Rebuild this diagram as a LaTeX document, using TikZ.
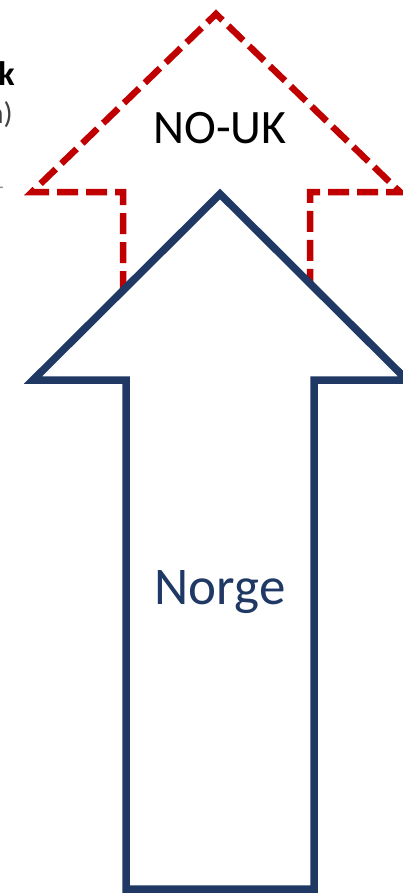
\documentclass[tikz,border=0pt]{standalone}
\usepackage{fontspec}
\setmainfont{Carlito}
\definecolor{navy}{HTML}{1F3864}
\definecolor{dred}{HTML}{C00000}
\definecolor{fragray}{HTML}{404040}
\begin{document}
\begin{tikzpicture}[x=1pt,y=-1pt,
  redarrow/.style={draw=dred,line width=6.5pt,dash pattern=on 21pt off 8pt,fill=white,miter limit=10},
  bluearrow/.style={draw=navy,line width=7.5pt,fill=white,miter limit=10},
  lbl/.style={inner sep=0pt,font=\fontsize{48}{52}\selectfont}]
\useasboundingbox (0,0) rectangle (403,894);
\clip (0,0) rectangle (403,894);
% cropped text fragments at the left edge
\node[anchor=base east,inner sep=0pt,font=\fontsize{34}{38}\selectfont\bfseries] (fragk) at (15,85) {k};
\node[anchor=base east,inner sep=0pt,text=fragray,font=\fontsize{30}{34}\selectfont] (fragp) at (13,123) {n)};
\node[anchor=east,inner sep=0pt,text=fragray!60,font=\fontsize{20}{24}\selectfont] (fragd) at (4,190) {-};
% red dashed NO-UK arrow
\draw[redarrow] (123,350) -- (123,192) -- (32,192) -- (216,14) -- (400,192) -- (310,192) -- (310,350);
\node[lbl] (nouk) at (220,128) {NO-UK};
% blue Norge arrow
\draw[bluearrow] (126,889) -- (126,380) -- (33,380) -- (220,194) -- (407,380) -- (314,380) -- (314,889) -- cycle;
\node[lbl,text=navy,font=\fontsize{53}{57}\selectfont] (norge) at (220,592) {Norge};
\end{tikzpicture}
\end{document}
